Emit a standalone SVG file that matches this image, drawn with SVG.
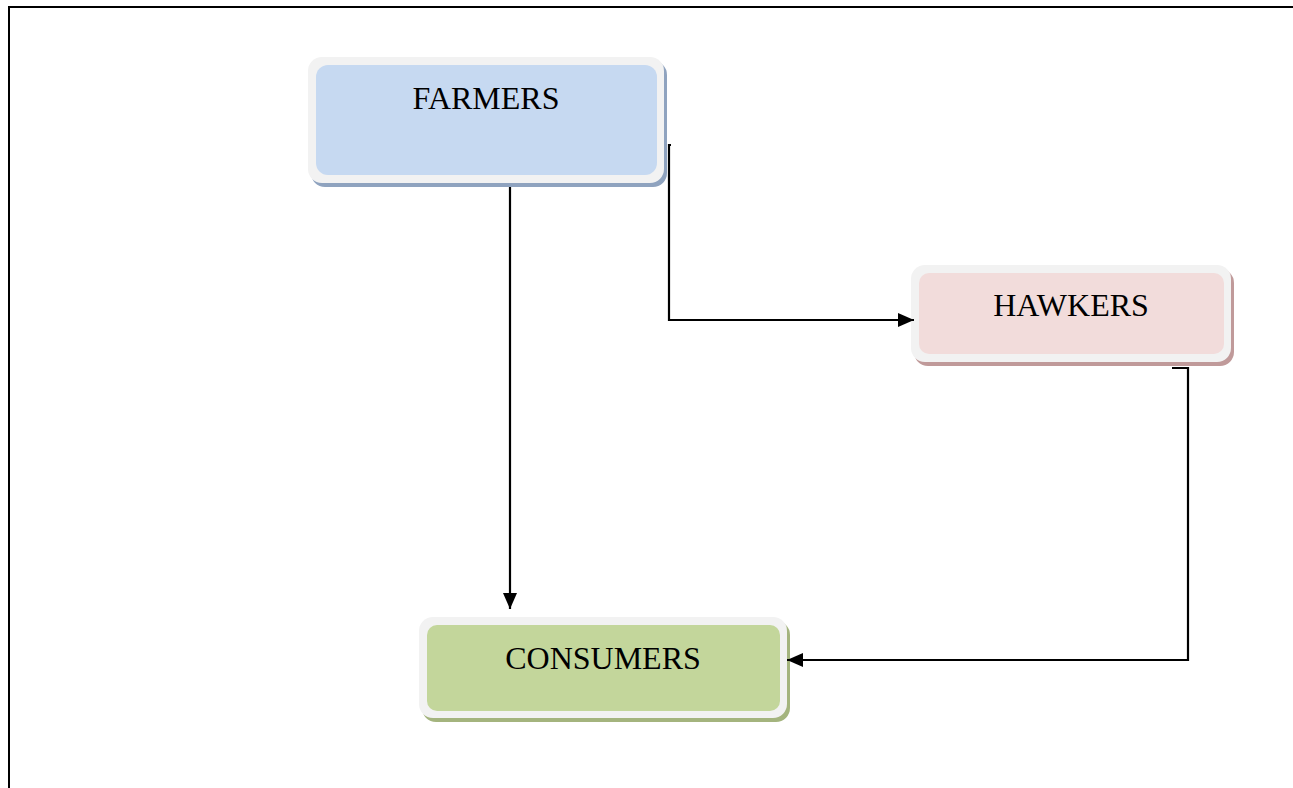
<svg xmlns="http://www.w3.org/2000/svg" width="1293" height="788" viewBox="0 0 1293 788">
<style>
.outer{fill:#f2f2f2;}
.lbl{font-family:"Liberation Serif","Times New Roman",serif;font-size:32px;fill:#000;text-anchor:middle;}
.conn{fill:none;stroke:#000;stroke-width:2.2;}
</style>
<defs>
<marker id="ahL" markerWidth="16" markerHeight="14" refX="16" refY="7" orient="auto" markerUnits="userSpaceOnUse" viewBox="0 0 16 14">
<path d="M0,0 L16,7 L0,14 z" fill="#000"/>
</marker>
</defs>
<rect width="1293" height="788" fill="#fff"/>
<path d="M9,788 V7 H1293" fill="none" stroke="#000" stroke-width="2"/>

<g id="farmers">
<rect x="311" y="61" width="356" height="126" rx="14" fill="#8fa3bf"/>
<rect x="308" y="57" width="356" height="126" rx="14" class="outer"/>
<rect x="316" y="65" width="341" height="110" rx="12" fill="#c6d9f1"/>
<text x="486" y="109" class="lbl">FARMERS</text>
</g>

<g id="hawkers">
<rect x="914" y="269" width="320" height="97" rx="14" fill="#c09a9a"/>
<rect x="911" y="265" width="320" height="97" rx="14" class="outer"/>
<rect x="919" y="273" width="305" height="81" rx="10" fill="#f2dcdb"/>
<text x="1071" y="316" class="lbl">HAWKERS</text>
</g>

<g id="consumers">
<rect x="422" y="621" width="368" height="101" rx="14" fill="#a4b47e"/>
<rect x="419" y="617" width="368" height="101" rx="14" class="outer"/>
<rect x="427" y="625" width="353" height="86" rx="10" fill="#c3d69b"/>
<text x="603" y="669" class="lbl">CONSUMERS</text>
</g>

<g id="connectors">
<path class="conn" d="M510,187 V609" marker-end="url(#ahL)"/>
<path class="conn" d="M671,145 H669 V320 H914" marker-end="url(#ahL)"/>
<path class="conn" d="M1172,368 H1188 V660 H787" marker-end="url(#ahL)"/>
</g>
</svg>
